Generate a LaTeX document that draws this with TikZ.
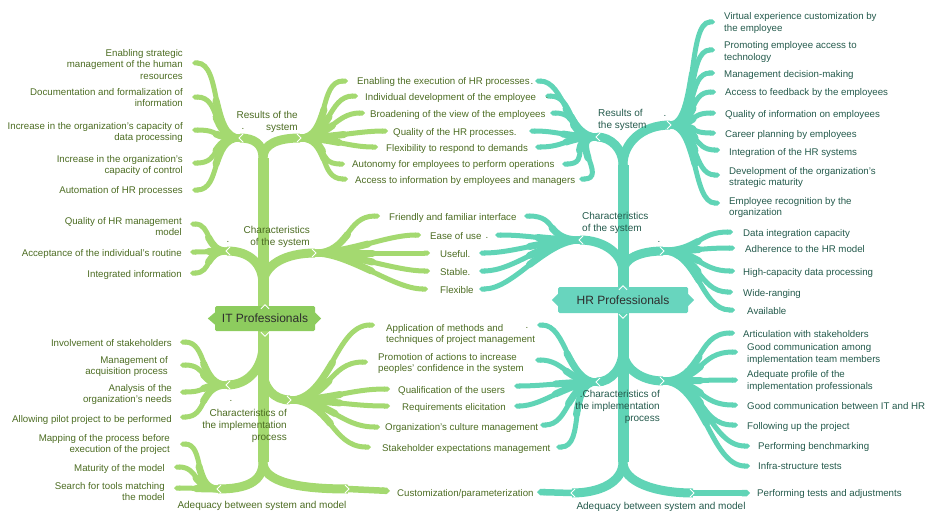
\documentclass[tikz,border=0pt]{standalone}
\usepackage{fontspec}
\setmainfont{Liberation Sans}
\usetikzlibrary{arrows.meta,calc}
\definecolor{gbr}{RGB}{164,217,112}
\definecolor{gbox}{RGB}{141,204,94}
\definecolor{gtx}{RGB}{76,108,34}
\definecolor{tbr}{RGB}{96,212,182}
\definecolor{tbox}{RGB}{104,213,190}
\definecolor{ttx}{RGB}{36,90,76}
\definecolor{boxtx}{RGB}{45,45,45}
% leaf: style, hub, name, end point, control length (sign gives direction)
\newcommand\leaf[5]{%
  \coordinate (#3) at (#4);
  \coordinate (#3c1) at ($(#2)+(#5,0)$);
  \coordinate (#3c2) at ($(#3)+(-#5,0)$);
  \coordinate (#3q1) at ($(#2)!0.5!(#3c1)$);
  \coordinate (#3r) at ($(#3c1)!0.5!(#3c2)$);
  \coordinate (#3q2) at ($(#3q1)!0.5!(#3r)$);
  \path (#2) .. controls (#3c1) and (#3c2) .. (#3) coordinate[pos=0.5] (#3m);
  \draw[#1] (#2) .. controls (#3c1) and (#3c2) .. (#3);
  \draw[#1base] (#2) .. controls (#3q1) and (#3q2) .. (#3m);
}
\newcommand\leafl[5]{\leaf{#1}{#2}{#3}{#4}{-#5}}
\newcommand\leafr[5]{\leaf{#1}{#2}{#3}{#4}{#5}}
\newcommand\nL[1]{\draw[notch] ([shift={(3pt,4pt)}]#1) -- ([shift={(-1pt,0pt)}]#1) -- ([shift={(3pt,-4pt)}]#1);}
\newcommand\nR[1]{\draw[notch] ([shift={(-3pt,4pt)}]#1) -- ([shift={(1pt,0pt)}]#1) -- ([shift={(-3pt,-4pt)}]#1);}
\begin{document}
\begin{tikzpicture}[x=1pt,y=-1pt,
  gleaf/.style={draw=gbr,line width=5pt,-{Triangle Cap}},
  gleafbase/.style={draw=gbr,line width=7pt,line cap=round},
  tleaf/.style={draw=tbr,line width=5pt,-{Triangle Cap}},
  tleafbase/.style={draw=tbr,line width=7pt,line cap=round},
  garm/.style={draw=gbr,line width=9pt},
  tarm/.style={draw=tbr,line width=9pt},
  gtrunk/.style={draw=gbr,line width=11pt},
  ttrunk/.style={draw=tbr,line width=11pt},
  notch/.style={draw=white,line width=0.9pt},
  gt/.style={text=gtx,font=\fontsize{9.7}{11.5}\selectfont,inner sep=0pt,yshift=-1.5pt},
  tt/.style={text=ttx,font=\fontsize{9.7}{11.5}\selectfont,inner sep=0pt,yshift=-1.5pt},
  gl/.style={text=gtx,font=\fontsize{10}{12}\selectfont,inner sep=0pt,yshift=-1.5pt},
  tl/.style={text=ttx,font=\fontsize{10}{12}\selectfont,inner sep=0pt,yshift=-1.5pt},
  boxst/.style={minimum height=25pt,inner sep=0pt,text=boxtx,font=\fontsize{12}{14}\selectfont,rounded corners=1.5pt},
]
\useasboundingbox (0,0) rectangle (926,511);

% ---------- hubs and junctions ----------
\coordinate (gRL) at (240,138); \coordinate (gRR) at (300,138);
\coordinate (gCL) at (227,251); \coordinate (gCR) at (315,253);
\coordinate (gIL) at (227,385); \coordinate (gIR) at (290,400);
\coordinate (gAL) at (218,489); \coordinate (gAR) at (348,489);
\coordinate (gJ1) at (263,158); \coordinate (gJ2) at (263,285);
\coordinate (gJ3) at (263,345); \coordinate (gJ3b) at (263,370);
\coordinate (gJ4) at (263,462);
\coordinate (tRL) at (597,137); \coordinate (tRR) at (670,125);
\coordinate (tCL) at (580,240); \coordinate (tCR) at (663,251);
\coordinate (tIL) at (597,382); \coordinate (tIR) at (663,381);
\coordinate (tAL) at (572,493); \coordinate (tAR) at (693,493);
\coordinate (tJ1) at (623,165); \coordinate (tJ2) at (623,272);
\coordinate (tJ3) at (623,350); \coordinate (tJ4) at (623,462);

% ---------- trunks and arms ----------
\draw[gtrunk] (gJ1) -- (gJ4);
\draw[garm] (gJ1) .. controls +(0,-14) and +(14,0) .. (gRL);
\draw[garm] (gJ1) .. controls +(0,-14) and +(-22,0) .. (gRR);
\draw[garm] (gJ2) .. controls +(0,-22) and +(22,0) .. (gCL);
\draw[garm] (gJ2) .. controls +(0,-20) and +(-30,0) .. (gCR);
\draw[garm] (gJ3) .. controls +(0,22) and +(22,0) .. (gIL);
\draw[garm] (gJ3b) .. controls +(0,18) and +(-16,0) .. (gIR);
\draw[garm] (gJ4) .. controls +(0,20) and +(28,0) .. (gAL);
\draw[garm] (gJ4) .. controls +(0,20) and +(-50,0) .. (gAR);

\draw[ttrunk] (tJ1) -- (tJ4);
\draw[tarm] (tJ1) .. controls +(0,-16) and +(14,0) .. (tRL);
\draw[tarm] (tJ1) .. controls +(0,-22) and +(-28,0) .. (tRR);
\draw[tarm] (tJ2) .. controls +(0,-18) and +(24,0) .. (tCL);
\draw[tarm] (tJ2) .. controls +(0,-14) and +(-22,0) .. (tCR);
\draw[tarm] (tJ3) .. controls +(0,18) and +(14,0) .. (tIL);
\draw[tarm] (tJ3) .. controls +(0,18) and +(-22,0) .. (tIR);
\draw[tarm] (tJ4) .. controls +(0,20) and +(28,0) .. (tAL);
\draw[tarm] (tJ4) .. controls +(0,20) and +(-38,0) .. (tAR);

% ---------- green leaves ----------
\leafl{gleaf}{gRL}{a1}{192,63}{30}
\leafl{gleaf}{gRL}{a2}{192,97}{30}
\leafl{gleaf}{gRL}{a3}{192,130}{30}
\leafl{gleaf}{gRL}{a4}{192,163}{30}
\leafl{gleaf}{gRL}{a5}{192,190}{30}

\leafr{gleaf}{gRR}{b1}{348,81}{30}
\leafr{gleaf}{gRR}{b2}{358,96}{30}
\leafr{gleaf}{gRR}{b3}{365,113}{30}
\leafr{gleaf}{gRR}{b4}{388,131}{30}
\leafr{gleaf}{gRR}{b5}{378,147}{30}
\leafr{gleaf}{gRR}{b6}{345,164}{30}
\leafr{gleaf}{gRR}{b7}{348,179}{30}

\leafl{gleaf}{gCL}{c1}{190,224}{22}
\leafl{gleaf}{gCL}{c2}{190,252}{22}
\leafl{gleaf}{gCL}{c3}{190,273}{22}

\leafr{gleaf}{gCR}{d1}{380,216}{35}
\leafr{gleaf}{gCR}{d2}{421,235}{35}
\leafr{gleaf}{gCR}{d3}{430,253}{35}
\leafr{gleaf}{gCR}{d4}{430,271}{35}
\leafr{gleaf}{gCR}{d5}{428,289}{35}

\leafl{gleaf}{gIL}{e1}{180,342}{28}
\leafl{gleaf}{gIL}{e2}{180,365}{28}
\leafl{gleaf}{gIL}{e3}{180,392}{28}
\leafl{gleaf}{gIL}{e4}{180,417}{28}

\leafr{gleaf}{gIR}{f1}{375,325}{40}
\leafr{gleaf}{gIR}{f2}{368,362}{40}
\leafr{gleaf}{gIR}{f3}{390,389}{40}
\leafr{gleaf}{gIR}{f4}{390,406}{40}
\leafr{gleaf}{gIR}{f5}{380,427}{40}
\leafr{gleaf}{gIR}{f6}{371,447}{40}

\leafl{gleaf}{gAL}{h1}{180,444}{25}
\leafl{gleaf}{gAL}{h2}{174,467}{25}
\leafl{gleaf}{gAL}{h3}{174,488}{25}
\coordinate (h4) at (390,491);
\draw[gleaf,line width=6.5pt] (gAR) -- (h4);

% ---------- teal leaves ----------
\leafl{tleaf}{tRL}{i1}{535,81}{30}
\leafl{tleaf}{tRL}{i2}{545,96}{30}
\leafl{tleaf}{tRL}{i3}{550,113}{30}
\leafl{tleaf}{tRL}{i4}{529,131}{30}
\leafl{tleaf}{tRL}{i5}{535,147}{30}
\leafl{tleaf}{tRL}{i6}{562,164}{30}
\leafl{tleaf}{tRL}{i7}{579,179}{30}

\leafr{tleaf}{tRR}{j1}{715,22}{28}
\leafr{tleaf}{tRR}{j2}{715,50}{28}
\leafr{tleaf}{tRR}{j3}{715,73}{28}
\leafr{tleaf}{tRR}{j4}{716,92}{28}
\leafr{tleaf}{tRR}{j5}{716,113}{28}
\leafr{tleaf}{tRR}{j6}{716,133}{28}
\leafr{tleaf}{tRR}{j7}{720,150}{28}
\leafr{tleaf}{tRR}{j8}{720,175}{28}
\leafr{tleaf}{tRR}{j9}{720,203}{28}

\leafl{tleaf}{tCL}{k1}{524,216}{35}
\leafl{tleaf}{tCL}{k2}{495,235}{35}
\leafl{tleaf}{tCL}{k3}{479,253}{35}
\leafl{tleaf}{tCL}{k4}{479,271}{35}
\leafl{tleaf}{tCL}{k5}{479,289}{35}

\leafr{tleaf}{tCR}{l1}{733,232}{35}
\leafr{tleaf}{tCR}{l2}{735,248}{35}
\leafr{tleaf}{tCR}{l3}{735,271}{35}
\leafr{tleaf}{tCR}{l4}{733,292}{35}
\leafr{tleaf}{tCR}{l5}{735,310}{35}

\leafl{tleaf}{tIL}{m1}{537,325}{30}
\leafl{tleaf}{tIL}{m2}{535,360}{30}
\leafl{tleaf}{tIL}{m3}{514,386}{30}
\leafl{tleaf}{tIL}{m4}{514,406}{30}
\leafl{tleaf}{tIL}{m5}{540,425}{30}
\leafl{tleaf}{tIL}{m6}{556,447}{30}

\leafr{tleaf}{tIR}{n1}{735,333}{40}
\leafr{tleaf}{tIR}{n2}{738,352}{40}
\leafr{tleaf}{tIR}{n3}{738,380}{40}
\leafr{tleaf}{tIR}{n4}{738,405}{40}
\leafr{tleaf}{tIR}{n5}{738,425}{40}
\leafr{tleaf}{tIR}{n6}{750,446}{40}
\leafr{tleaf}{tIR}{n7}{750,466}{40}

\coordinate (o1) at (537,492);
\coordinate (o2) at (750,493);
\draw[tleaf,line width=6.5pt] (tAL) -- (o1);
\draw[tleaf,line width=6.5pt] (tAR) -- (o2);

% ---------- notches ----------
\nL{gRL} \nR{gRR} \nL{gCL} \nR{gCR} \nL{gIL} \nR{gIR} \nL{gAL} \nR{gAR}
\nL{tRL} \nR{tRR} \nL{tCL} \nR{tCR} \nL{tIL} \nR{tIR} \nL{tAL} \nR{tAR}

% ---------- central boxes ----------
\node[boxst,fill=gbox,minimum width=100pt] (itbox) at (265,318.5) {IT Professionals};
\fill[gbox] ([yshift=6pt]itbox.west) -- ([xshift=-7pt]itbox.west) -- ([yshift=-6pt]itbox.west) -- cycle;
\fill[gbox] ([yshift=6pt]itbox.east) -- ([xshift=6pt]itbox.east) -- ([yshift=-6pt]itbox.east) -- cycle;
\draw[notch] ([xshift=-4pt,yshift=-3pt]itbox.north) -- ([yshift=1pt]itbox.north) -- ([xshift=4pt,yshift=-3pt]itbox.north);
\draw[notch] ([xshift=-4pt,yshift=-1pt]itbox.south) -- ([yshift=-5pt]itbox.south) -- ([xshift=4pt,yshift=-1pt]itbox.south);

\node[boxst,fill=tbox,minimum width=130pt,minimum height=26pt] (hrbox) at (623,300) {HR Professionals};
\fill[tbox] ([yshift=6pt]hrbox.west) -- ([xshift=-6pt]hrbox.west) -- ([yshift=-6pt]hrbox.west) -- cycle;
\fill[tbox] ([yshift=6pt]hrbox.east) -- ([xshift=6pt]hrbox.east) -- ([yshift=-6pt]hrbox.east) -- cycle;
\draw[notch] ([xshift=-4pt,yshift=-3pt]hrbox.north) -- ([yshift=1pt]hrbox.north) -- ([xshift=4pt,yshift=-3pt]hrbox.north);
\draw[notch] ([xshift=-4pt,yshift=-1pt]hrbox.south) -- ([yshift=-5pt]hrbox.south) -- ([xshift=4pt,yshift=-1pt]hrbox.south);

% ---------- section labels ----------
\node[gl,anchor=east,align=right] (gLR) at (298,120.5) {Results of the\\system};
\node[gl,anchor=east,align=right] (gLC) at (310,235) {Characteristics\\of the system};
\node[gl,anchor=east,align=right] (gLI) at (287,424) {Characteristics of\\the implementation\\process};
\node[gl] (gLA) at (262,504) {Adequacy between system and model};
\node[tl,anchor=west,align=left] (tLR) at (598,118) {Results of\\the system};
\node[tl,anchor=west,align=left] (tLC) at (582,221.5) {Characteristics\\of the system};
\node[tl,anchor=east,align=right] (tLI) at (660,405) {.Characteristics of\\the implementation\\process};
\node[tl] (tLA) at (661,505) {Adequacy between system and model};

% ---------- green side texts ----------
\node[gt,anchor=east,align=right] (ta1) at (183,63) {Enabling strategic\\management of the human\\resources};
\node[gt,anchor=east,align=right] (ta2) at (183,96) {Documentation and formalization of\\information};
\node[gt,anchor=east,align=right] (ta3) at (183,131) {Increase in the organization's capacity of\\data processing};
\node[gt,anchor=east,align=right] (ta4) at (183,164) {Increase in the organization's\\capacity of control};
\node[gt,anchor=east] (ta5) at (183,189) {Automation of HR processes};

\node[gt,anchor=east,align=right] (tc1) at (182,225) {Quality of HR management\\model};
\node[gt,anchor=east] (tc2) at (182,252) {Acceptance of the individual's routine};
\node[gt,anchor=east] (tc3) at (182,273) {Integrated information};

\node[gt,anchor=east] (te1) at (172,342) {Involvement of stakeholders};
\node[gt,anchor=east,align=right] (te2) at (168,365) {Management of\\acquisition process};
\node[gt,anchor=east,align=right] (te3) at (172,393) {Analysis of the\\organization's needs};
\node[gt,anchor=east] (te4) at (172,418) {Allowing pilot project to be performed};

\node[gt,anchor=east,align=right] (th1) at (170,443) {Mapping of the process before\\execution of the project};
\node[gt,anchor=east] (th2) at (165,467) {Maturity of the model};
\node[gt,anchor=east,align=right] (th3) at (165,490) {Search for tools matching\\the model};

% ---------- shared central texts ----------
\node[gt,anchor=west] (tb1) at (357,80) {Enabling the execution of HR processes};
\node[gt,anchor=west] (tb2) at (365,96) {Individual development of the employee};
\node[gt,anchor=west] (tb3) at (370,113) {Broadening of the view of the employees};
\node[gt,anchor=west] (tb4) at (393,131) {Quality of the HR processes.};
\node[gt,anchor=west] (tb5) at (386,147) {Flexibility to respond to demands};
\node[gt,anchor=west] (tb6) at (352,163) {Autonomy for employees to perform operations};
\node[gt,anchor=west] (tb7) at (355,179) {Access to information by employees and managers};

\node[gt,anchor=west] (td1) at (389,216) {Friendly and familiar interface};
\node[gt,anchor=west] (td2) at (430,235) {Ease of use};
\node[gt,anchor=west] (td3) at (440,253) {Useful.};
\node[gt,anchor=west] (td4) at (440,271) {Stable.};
\node[gt,anchor=west] (td5) at (440,289) {Flexible};

\node[gt,anchor=west,align=left] (tf1) at (386,333) {Application of methods and\\techniques of project management};
\node[gt,anchor=west,align=left] (tf2) at (378,362) {Promotion of actions to increase\\peoples' confidence in the system};
\node[gt,anchor=west] (tf3) at (398,389) {Qualification of the users};
\node[gt,anchor=west] (tf4) at (402,406) {Requirements elicitation};
\node[gt,anchor=west] (tf5) at (385,426) {Organization's culture management};
\node[gt,anchor=west] (tf6) at (382,447) {Stakeholder expectations management};

\node[gt,anchor=west] (tg1) at (397,492) {Customization/parameterization};

% stray dots
\node[gt] (p1) at (532,82) {.};
\node[gt] (p2) at (547,96) {.};
\node[gt] (p3) at (487,236) {.};
\node[gt] (p4) at (243,127) {.};
\node[gt] (p5) at (228,240) {.};
\node[gt] (p6) at (231,399) {.};
\node[gt] (p7) at (527,326) {.};
\node[tt] (p8) at (665,114) {.};
\node[tt] (p9) at (659,240) {.};

% ---------- teal side texts ----------
\node[tt,anchor=west,align=left] (tj1) at (724,21.5) {Virtual experience customization by\\the employee};
\node[tt,anchor=west,align=left] (tj2) at (724,50.5) {Promoting employee access to\\technology};
\node[tt,anchor=west] (tj3) at (724,73) {Management decision-making};
\node[tt,anchor=west] (tj4) at (725,91) {Access to feedback by the employees};
\node[tt,anchor=west] (tj5) at (725,113) {Quality of information on employees};
\node[tt,anchor=west] (tj6) at (725,133) {Career planning by employees};
\node[tt,anchor=west] (tj7) at (729,151) {Integration of the HR systems};
\node[tt,anchor=west,align=left] (tj8) at (729,176) {Development of the organization's\\strategic maturity};
\node[tt,anchor=west,align=left] (tj9) at (729,206) {Employee recognition by the\\organization};

\node[tt,anchor=west] (tl1) at (743,232) {Data integration capacity};
\node[tt,anchor=west] (tl2) at (745,248) {Adherence to the HR model};
\node[tt,anchor=west] (tl3) at (743,271) {High-capacity data processing};
\node[tt,anchor=west] (tl4) at (743,292) {Wide-ranging};
\node[tt,anchor=west] (tl5) at (747,310) {Available};

\node[tt,anchor=west] (tn1) at (743,333) {Articulation with stakeholders};
\node[tt,anchor=west,align=left] (tn2) at (747,352.5) {Good communication among\\implementation team members};
\node[tt,anchor=west,align=left] (tn3) at (747,379.5) {Adequate profile of the\\implementation professionals};
\node[tt,anchor=west] (tn4) at (747,405) {Good communication between IT and HR};
\node[tt,anchor=west] (tn5) at (747,425) {Following up the project};
\node[tt,anchor=west] (tn6) at (758,445) {Performing benchmarking};
\node[tt,anchor=west] (tn7) at (758,465) {Infra-structure tests};
\node[tt,anchor=west] (to2) at (757,492) {Performing tests and adjustments};
\end{tikzpicture}
\end{document}
